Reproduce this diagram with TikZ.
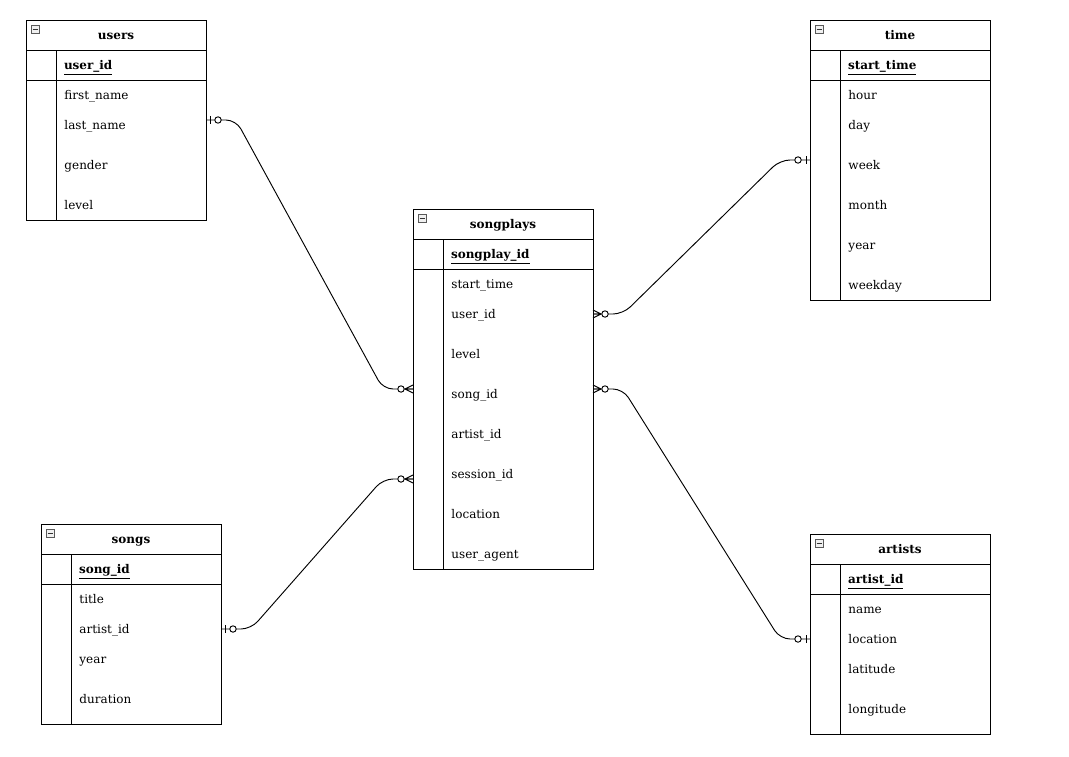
\documentclass[tikz,border=0pt]{standalone}
\usepackage{fontspec}
\setmainfont{DejaVu Serif}
\begin{document}
\begin{tikzpicture}[x=0.75pt,y=-0.75pt,line width=0.7pt,font=\fontsize{9}{11}\selectfont]
      \fill[white] (0,0) rectangle (1069,756);
      \useasboundingbox (0,0) rectangle (1069,756);

      \tikzstyle{cell} = [
        rectangle,
        draw=black,
        anchor=north west,
        inner sep=0pt,
        outer sep=0pt
      ]
      \tikzstyle{tabletitle} = [cell, minimum width=135pt, minimum height=22.5pt, text height=8.8pt, text depth=1.6pt, font=\fontsize{9}{11}\selectfont\bfseries]
      \tikzstyle{keycell} = [cell, minimum width=22.5pt, minimum height=22.5pt]
      \tikzstyle{keyname} = [cell, minimum height=22.5pt, text width=100.5pt, inner xsep=6pt, align=left, text height=8.8pt, text depth=1.6pt, font=\fontsize{9}{11}\selectfont\bfseries]
      \tikzstyle{field} = [anchor=west, inner sep=0pt, text height=8.8pt, text depth=1.6pt]
      \tikzstyle{icon} = [rectangle, draw=gray!70!black, fill=gray!12, line width=0.5pt, anchor=north west, minimum size=6pt, inner sep=0pt]
      \tikzstyle{minus} = [draw=black!80, line width=0.6pt]
      \tikzstyle{link} = [rounded corners=7.5pt]

      \tikzset{
        zeroone/.pic={\draw (4,-4) -- (4,4); \draw[fill=white] (12,0) circle[radius=2.4pt];},
        zeromany/.pic={\draw (8,0) -- (0,-4) (8,0) -- (0,0) (8,0) -- (0,4); \draw[fill=white] (12,0) circle[radius=2.4pt];}
      }

      % users
      \node[tabletitle] (users) at (26,20) {users};
      \node[icon] (usersIcon) at ([xshift=3.75pt,yshift=-3.75pt] users.north west) {};
      \draw[minus] ([xshift=1.3pt] usersIcon.west) -- ([xshift=-1.3pt] usersIcon.east);
      \node[keycell] (usersKeyL) at (26,50) {};
      \node[keyname] (usersKey) at (56,50) {\underline{user\_id}};
      \node[cell, minimum width=22.5pt, minimum height=105pt] (usersBodyL) at (26,80) {};
      \node[cell, minimum width=112.5pt, minimum height=105pt] (usersBody) at (56,80) {};
      \node[field] (usersFirstName) at (64,95) {first\_name};
      \node[field] (usersLastName) at (64,125) {last\_name};
      \node[field] (usersGender) at (64,165) {gender};
      \node[field] (usersLevel) at (64,205) {level};

      % time
      \node[tabletitle] (time) at (810,20) {time};
      \node[icon] (timeIcon) at ([xshift=3.75pt,yshift=-3.75pt] time.north west) {};
      \draw[minus] ([xshift=1.3pt] timeIcon.west) -- ([xshift=-1.3pt] timeIcon.east);
      \node[keycell] (timeKeyL) at (810,50) {};
      \node[keyname] (timeKey) at (840,50) {\underline{start\_time}};
      \node[cell, minimum width=22.5pt, minimum height=165pt] (timeBodyL) at (810,80) {};
      \node[cell, minimum width=112.5pt, minimum height=165pt] (timeBody) at (840,80) {};
      \node[field] (timeHour) at (848,95) {hour};
      \node[field] (timeDay) at (848,125) {day};
      \node[field] (timeWeek) at (848,165) {week};
      \node[field] (timeMonth) at (848,205) {month};
      \node[field] (timeYear) at (848,245) {year};
      \node[field] (timeWeekday) at (848,285) {weekday};

      % songplays
      \node[tabletitle] (sp) at (413,209) {songplays};
      \node[icon] (spIcon) at ([xshift=3.75pt,yshift=-3.75pt] sp.north west) {};
      \draw[minus] ([xshift=1.3pt] spIcon.west) -- ([xshift=-1.3pt] spIcon.east);
      \node[keycell] (spKeyL) at (413,239) {};
      \node[keyname] (spKey) at (443,239) {\underline{songplay\_id}};
      \node[cell, minimum width=22.5pt, minimum height=225pt] (spBodyL) at (413,269) {};
      \node[cell, minimum width=112.5pt, minimum height=225pt] (spBody) at (443,269) {};
      \node[field] (spStartTime) at (451,284) {start\_time};
      \node[field] (spUserId) at (451,314) {user\_id};
      \node[field] (spLevel) at (451,354) {level};
      \node[field] (spSongId) at (451,394) {song\_id};
      \node[field] (spArtistId) at (451,434) {artist\_id};
      \node[field] (spSessionId) at (451,474) {session\_id};
      \node[field] (spLocation) at (451,514) {location};
      \node[field] (spUserAgent) at (451,554) {user\_agent};

      % songs
      \node[tabletitle] (songs) at (41,524) {songs};
      \node[icon] (songsIcon) at ([xshift=3.75pt,yshift=-3.75pt] songs.north west) {};
      \draw[minus] ([xshift=1.3pt] songsIcon.west) -- ([xshift=-1.3pt] songsIcon.east);
      \node[keycell] (songsKeyL) at (41,554) {};
      \node[keyname] (songsKey) at (71,554) {\underline{song\_id}};
      \node[cell, minimum width=22.5pt, minimum height=105pt] (songsBodyL) at (41,584) {};
      \node[cell, minimum width=112.5pt, minimum height=105pt] (songsBody) at (71,584) {};
      \node[field] (songsTitle) at (79,599) {title};
      \node[field] (songsArtistId) at (79,629) {artist\_id};
      \node[field] (songsYear) at (79,659) {year};
      \node[field] (songsDuration) at (79,699) {duration};

      % artists
      \node[tabletitle] (artists) at (810,534) {artists};
      \node[icon] (artistsIcon) at ([xshift=3.75pt,yshift=-3.75pt] artists.north west) {};
      \draw[minus] ([xshift=1.3pt] artistsIcon.west) -- ([xshift=-1.3pt] artistsIcon.east);
      \node[keycell] (artistsKeyL) at (810,564) {};
      \node[keyname] (artistsKey) at (840,564) {\underline{artist\_id}};
      \node[cell, minimum width=22.5pt, minimum height=105pt] (artistsBodyL) at (810,594) {};
      \node[cell, minimum width=112.5pt, minimum height=105pt] (artistsBody) at (840,594) {};
      \node[field] (artistsName) at (848,609) {name};
      \node[field] (artistsLocation) at (848,639) {location};
      \node[field] (artistsLatitude) at (848,669) {latitude};
      \node[field] (artistsLongitude) at (848,709) {longitude};

      % ports
      \coordinate (usersP) at (206,120);
      \coordinate (timeP) at (810,160);
      \coordinate (songsP) at (221,629);
      \coordinate (artistsP) at (810,639);
      \coordinate (spUserP) at (593,314);
      \coordinate (spSongLP) at (413,389);
      \coordinate (spSongRP) at (593,389);
      \coordinate (spSessionP) at (413,479);

      % relations
      \draw[link] (usersP) -- ++(30,0) -- ([xshift=-22.5pt] spSongLP) -- (spSongLP);
      \draw[link] (spUserP) -- ++(30,0) -- ([xshift=-22.5pt] timeP) -- (timeP);
      \draw[link] (spSongRP) -- ++(30,0) -- ([xshift=-22.5pt] artistsP) -- (artistsP);
      \draw[link] (songsP) -- ++(30,0) -- ([xshift=-22.5pt] spSessionP) -- (spSessionP);

      \pic at (usersP) {zeroone};
      \pic[xscale=-1] at (spSongLP) {zeromany};
      \pic at (spUserP) {zeromany};
      \pic[xscale=-1] at (timeP) {zeroone};
      \pic at (spSongRP) {zeromany};
      \pic[xscale=-1] at (artistsP) {zeroone};
      \pic at (songsP) {zeroone};
      \pic[xscale=-1] at (spSessionP) {zeromany};
    \end{tikzpicture}
\end{document}
